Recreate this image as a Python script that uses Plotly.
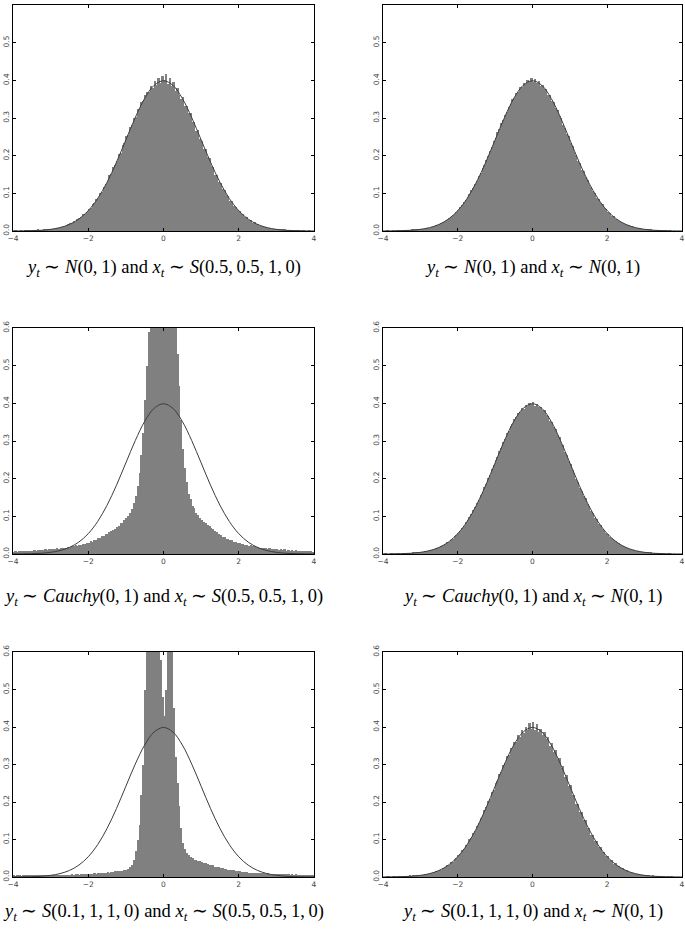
import plotly.graph_objects as go

# ---------------- data (densities x 1000, bins of width 0.05 from -4 to 4) ----------------
FIRST_CENTRE = -3.975
BIN_WIDTH = 0.05

hist_n_s = [  # y ~ N(0,1), x ~ S(0.5,0.5,1,0)
    0, 1, 0, 0, 1, 0, 1, 2, 1, 1,
    2, 1, 1, 3, 2, 2, 4, 3, 5, 4,
    6, 5, 7, 8, 8, 11, 10, 14, 13, 18,
    20, 20, 26, 25, 31, 35, 36, 44, 45, 50,
    58, 61, 72, 74, 85, 88, 100, 104, 118, 126,
    131, 148, 152, 170, 174, 186, 205, 208, 228, 233,
    252, 256, 276, 282, 301, 303, 324, 325, 342, 345,
    362, 368, 370, 384, 380, 398, 388, 405, 392, 412,
    402, 418, 390, 405, 384, 395, 372, 380, 361, 350,
    356, 333, 332, 312, 313, 290, 290, 266, 268, 245,
    240, 219, 217, 196, 193, 173, 170, 150, 150, 130,
    128, 112, 110, 95, 94, 80, 79, 67, 65, 55,
    54, 44, 44, 36, 36, 29, 29, 22, 23, 18,
    18, 14, 14, 10, 11, 8, 8, 6, 6, 5,
    4, 4, 3, 3, 3, 2, 2, 1, 2, 1,
    1, 1, 1, 0, 1, 0, 0, 1, 0, 0,
]
hist_n_n = [  # y ~ N(0,1), x ~ N(0,1)
    0, 0, 1, 0, 0, 1, 0, 1, 1, 1,
    1, 1, 2, 2, 2, 3, 3, 3, 4, 4,
    5, 6, 6, 8, 9, 9, 11, 13, 15, 16,
    19, 21, 23, 27, 29, 34, 37, 42, 45, 51,
    56, 63, 68, 77, 82, 91, 97, 108, 114, 126,
    132, 146, 154, 167, 176, 189, 198, 213, 222, 238,
    246, 262, 270, 286, 294, 309, 316, 330, 336, 350,
    353, 367, 370, 381, 382, 392, 391, 400, 396, 405,
    395, 404, 393, 397, 386, 388, 376, 376, 362, 360,
    345, 342, 326, 322, 305, 299, 282, 274, 258, 251,
    234, 226, 210, 203, 186, 180, 163, 158, 143, 136,
    123, 118, 105, 100, 88, 85, 74, 71, 61, 58,
    50, 48, 41, 39, 33, 31, 26, 24, 21, 19,
    16, 15, 12, 12, 10, 9, 7, 7, 5, 5,
    4, 4, 3, 3, 2, 2, 2, 1, 1, 1,
    1, 1, 0, 1, 0, 0, 0, 0, 0, 0,
]
hist_c_s = [  # y ~ Cauchy(0,1), x ~ S(0.5,0.5,1,0)
    5, 7, 6, 8, 7, 8, 7, 9, 8, 9,
    8, 10, 9, 11, 10, 11, 10, 12, 11, 13,
    12, 14, 13, 15, 14, 16, 15, 17, 16, 18,
    18, 21, 20, 23, 22, 25, 24, 27, 27, 30,
    30, 34, 33, 38, 37, 42, 42, 47, 47, 53,
    54, 59, 60, 65, 66, 72, 74, 81, 83, 90,
    95, 102, 110, 120, 135, 155, 180, 215, 262, 322,
    410, 500, 590, 720, 860, 960, 1030, 1080, 1100, 1110,
    1110, 1090, 1040, 970, 870, 760, 640, 530, 445, 355,
    280, 228, 190, 160, 147, 128, 122, 108, 104, 95,
    91, 85, 83, 76, 74, 68, 66, 60, 59, 53,
    51, 46, 46, 41, 41, 37, 37, 33, 33, 30,
    30, 27, 27, 24, 25, 22, 23, 20, 21, 18,
    19, 16, 17, 15, 16, 14, 15, 13, 14, 12,
    13, 11, 12, 10, 12, 9, 11, 9, 10, 8,
    10, 8, 9, 7, 9, 7, 8, 7, 8, 6,
]
hist_c_n = [  # y ~ Cauchy(0,1), x ~ N(0,1)
    0, 1, 0, 0, 1, 1, 0, 1, 1, 0,
    1, 2, 1, 2, 2, 2, 3, 4, 3, 5,
    5, 5, 7, 7, 9, 10, 11, 12, 15, 17,
    18, 22, 23, 26, 31, 33, 38, 41, 47, 50,
    57, 62, 70, 75, 84, 89, 99, 106, 116, 124,
    135, 143, 156, 165, 178, 187, 201, 210, 225, 235,
    249, 258, 274, 282, 297, 305, 320, 326, 340, 345,
    358, 363, 374, 376, 387, 386, 396, 394, 401, 397,
    404, 394, 399, 390, 391, 381, 383, 370, 366, 354,
    350, 336, 333, 315, 311, 293, 289, 270, 264, 247,
    240, 222, 215, 198, 191, 175, 168, 153, 148, 132,
    128, 113, 109, 96, 93, 80, 78, 67, 65, 55,
    53, 45, 43, 37, 35, 29, 28, 23, 22, 18,
    17, 14, 14, 11, 10, 8, 8, 6, 6, 4,
    5, 3, 3, 3, 2, 2, 2, 1, 1, 1,
    1, 0, 1, 1, 0, 0, 0, 0, 0, 0,
]
hist_s_s = [  # y ~ S(0.1,1,1,0), x ~ S(0.5,0.5,1,0)
    3, 2, 3, 3, 2, 3, 3, 4, 3, 3,
    4, 3, 4, 4, 3, 4, 5, 4, 4, 5,
    4, 5, 5, 4, 5, 6, 5, 6, 6, 5,
    6, 7, 6, 7, 7, 6, 8, 7, 8, 8,
    8, 9, 8, 10, 9, 10, 11, 10, 12, 12,
    13, 12, 14, 14, 15, 15, 16, 17, 17, 18,
    19, 22, 26, 32, 45, 70, 100, 140, 220, 300,
    500, 750, 950, 1100, 1200, 1200, 1000, 750, 580, 480,
    430, 500, 650, 800, 620, 450, 320, 250, 190, 130,
    90, 76, 64, 59, 53, 51, 46, 46, 42, 42,
    40, 37, 37, 34, 33, 31, 31, 28, 28, 26,
    24, 24, 22, 22, 20, 20, 18, 18, 17, 16,
    15, 14, 14, 13, 13, 12, 12, 12, 11, 11,
    11, 10, 10, 10, 9, 10, 9, 9, 8, 9,
    8, 8, 7, 8, 7, 7, 7, 6, 7, 6,
    7, 6, 6, 6, 5, 6, 6, 5, 6, 5,
]
hist_s_n = [  # y ~ S(0.1,1,1,0), x ~ N(0,1)
    0, 0, 1, 1, 0, 1, 1, 0, 1, 1,
    2, 1, 1, 2, 3, 2, 3, 4, 4, 4,
    6, 5, 7, 8, 8, 11, 10, 13, 16, 16,
    20, 20, 25, 26, 32, 33, 39, 41, 48, 50,
    59, 62, 71, 75, 85, 89, 101, 105, 117, 124,
    136, 143, 157, 163, 179, 186, 202, 209, 226, 233,
    250, 257, 275, 280, 299, 303, 322, 325, 343, 343,
    361, 361, 378, 374, 391, 384, 401, 391, 412, 395,
    414, 392, 408, 387, 396, 379, 386, 367, 373, 350,
    358, 333, 340, 314, 318, 292, 297, 268, 273, 243,
    245, 219, 220, 196, 196, 173, 174, 151, 152, 130,
    131, 111, 113, 95, 96, 80, 81, 67, 67, 55,
    55, 45, 45, 36, 37, 29, 29, 23, 23, 18,
    18, 14, 14, 10, 11, 8, 8, 6, 6, 4,
    5, 3, 4, 2, 3, 2, 2, 1, 1, 1,
    1, 0, 1, 0, 1, 0, 0, 0, 0, 0,
]

# reference N(0,1) density curve, read at x = -4, -3.75, ..., 4 (x 1000)
CURVE_START = -4.0
CURVE_STEP = 0.25
curve_vals = [0.1, 0.4, 0.9, 2.0, 4.4, 9.1, 17.5, 31.7, 54.0, 86.3, 129.5, 182.6, 242.0,
              301.1, 352.1, 386.7, 398.9, 386.7, 352.1, 301.1, 242.0, 182.6, 129.5, 86.3,
              54.0, 31.7, 17.5, 9.1, 4.4, 2.0, 0.9, 0.4, 0.1]

captions = [
    "<i>y<sub>t</sub></i> ∼ <i>N</i>(0,\u20091) and <i>x<sub>t</sub></i> ∼ <i>S</i>(0.5,\u20090.5,\u20091,\u20090)",
    "<i>y<sub>t</sub></i> ∼ <i>N</i>(0,\u20091) and <i>x<sub>t</sub></i> ∼ <i>N</i>(0,\u20091)",
    "<i>y<sub>t</sub></i> ∼ <i>Cauchy</i>(0,\u20091) and <i>x<sub>t</sub></i> ∼ <i>S</i>(0.5,\u20090.5,\u20091,\u20090)",
    "<i>y<sub>t</sub></i> ∼ <i>Cauchy</i>(0,\u20091) and <i>x<sub>t</sub></i> ∼ <i>N</i>(0,\u20091)",
    "<i>y<sub>t</sub></i> ∼ <i>S</i>(0.1,\u20091,\u20091,\u20090) and <i>x<sub>t</sub></i> ∼ <i>S</i>(0.5,\u20090.5,\u20091,\u20090)",
    "<i>y<sub>t</sub></i> ∼ <i>S</i>(0.1,\u20091,\u20091,\u20090) and <i>x<sub>t</sub></i> ∼ <i>N</i>(0,\u20091)",
]
hists = [hist_n_s, hist_n_n, hist_c_s, hist_c_n, hist_s_s, hist_s_n]

x_ticks = [-4, -2, 0, 2, 4]
y_ticks = [0.0, 0.1, 0.2, 0.3, 0.4, 0.5, 0.6]

# ---------------- layout geometry ----------------
W, H = 685, 929
col_px = [(13, 314), (383, 682)]
row_px = [(5, 231), (328, 554), (652, 877)]
caption_y_px = [268, 597, 912]

fig = go.Figure()
layout = dict(
    width=W, height=H, margin=dict(l=0, r=0, t=0, b=0),
    paper_bgcolor="white", plot_bgcolor="white",
    showlegend=False, bargap=0, barmode="overlay",
    annotations=[],
)

for i, vals in enumerate(hists):
    r, c = divmod(i, 2)
    n = i + 1
    xa = "x" if n == 1 else f"x{n}"
    ya = "y" if n == 1 else f"y{n}"
    fig.add_trace(go.Bar(
        x0=FIRST_CENTRE, dx=BIN_WIDTH, y=[v / 1000 for v in vals],
        marker=dict(color="#808080", line=dict(width=0)),
        xaxis=xa, yaxis=ya, hoverinfo="skip",
    ))
    fig.add_trace(go.Scatter(
        x0=CURVE_START, dx=CURVE_STEP, y=[v / 1000 for v in curve_vals],
        mode="lines", line=dict(color="#3c3c3c", width=1, shape="spline", smoothing=1.0),
        xaxis=xa, yaxis=ya, hoverinfo="skip",
    ))
    x0p, x1p = col_px[c]
    y0p, y1p = row_px[r]
    axis_common = dict(
        showline=True, linecolor="black", linewidth=1, mirror="ticks",
        ticks="inside", ticklen=3, tickwidth=1, tickcolor="black",
        showgrid=False, zeroline=False, automargin=False,
        tickfont=dict(family="DejaVu Sans", size=7.5, color="#444444"),
    )
    layout["xaxis" if n == 1 else f"xaxis{n}"] = dict(
        axis_common, domain=[x0p / W, x1p / W], range=[-4, 4],
        tickvals=x_ticks, anchor=ya,
    )
    layout["yaxis" if n == 1 else f"yaxis{n}"] = dict(
        axis_common, domain=[1 - y1p / H, 1 - y0p / H], range=[0, 0.6],
        tickvals=y_ticks, tickformat=".1f", tickangle=-90, anchor=xa,
    )
    layout["annotations"].append(dict(
        text=captions[i], xref="paper", yref="paper",
        x=(x0p + x1p) / 2 / W, y=1 - caption_y_px[r] / H,
        xanchor="center", yanchor="middle", showarrow=False,
        font=dict(family="Liberation Serif", size=18.5, color="black"),
    ))

fig.update_layout(**layout)
fig.write_html(
    "out.html",
    config={"displayModeBar": False},
    post_script=("document.body.style.margin='0px';"
                 "document.body.style.overflow='hidden';"
                 "document.documentElement.style.overflow='hidden';"),
)
